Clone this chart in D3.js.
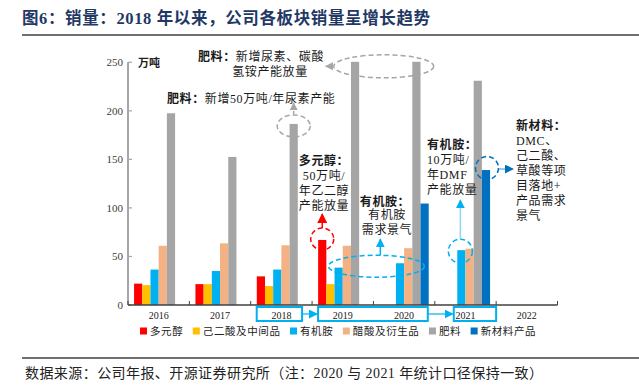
<!DOCTYPE html>
<html><head><meta charset="utf-8">
<script src="https://cdn.jsdelivr.net/npm/d3@7"></script>
<style>
html,body{margin:0;padding:0;background:#fff;}
svg{display:block;}
</style></head>
<body>
<svg id="c" width="639" height="392"></svg>
<script>
// ---------- data ----------
const years = ['2016','2017','2018','2019','2020','2021','2022'];
const seriesNames = ['多元醇','己二酸及中间品','有机胺','醋酸及衍生品','肥料','新材料产品'];
const polyol     = [22, 21.5, 29.5, 67, null, null, null];
const adipic     = [20.5, 21.5, 19.5, 21.5, null, null, null];
const amine      = [36.5, 35, 36.5, 38.5, 43, 56.5, null];
const acetic     = [61, 63.5, 61.5, 61, 58.5, 58, null];
const fertilizer = [197.5, 152.5, 186.5, 250.5, 250.5, 231, null];
const newMat     = [null, null, null, null, 104.5, 139, null];
const yTicks = [0, 50, 100, 150, 200, 250];
const colors = ['#FF0000','#FFC000','#00B0F0','#F4B183','#A5A5A5','#0070C0'];
const seriesValues = [polyol, adipic, amine, acetic, fertilizer, newMat];

const titleText = '图6：销量：2018 年以来，公司各板块销量呈增长趋势';
const sourceText = '数据来源：公司年报、开源证券研究所（注：2020 与 2021 年统计口径保持一致）';
const unitText = '万吨';

const svg = d3.select('#c');
const serif = '"Liberation Serif","Times New Roman","Noto Sans CJK SC",serif';

// ---------- title ----------
svg.append('text').attr('x', 22).attr('y', 24)
  .attr('font-family', serif).attr('font-weight', 'bold').attr('font-size', 16.5)
  .attr('textLength', 408).attr('lengthAdjust', 'spacing')
  .attr('fill', '#1F3864').text(titleText);
svg.append('line').attr('x1', 22).attr('x2', 639).attr('y1', 35).attr('y2', 35)
  .attr('stroke', '#404040').attr('stroke-width', 1.5);

// ---------- scales ----------
const x0 = d3.scaleBand().domain(years).range([128, 557.5]).paddingInner(0).paddingOuter(0);
const x1 = d3.scaleBand().domain(d3.range(6)).range([0, x0.bandwidth()]).paddingInner(0).paddingOuter(0.74);
const y = d3.scaleLinear().domain([0, 250]).range([305, 62.3]);

// ---------- bars ----------
const barData = [];
years.forEach((yr, j) => {
  seriesValues.forEach((arr, i) => {
    if (arr[j] != null) barData.push({yr, i, v: arr[j]});
  });
});
svg.append('g').selectAll('rect').data(barData).join('rect')
  .attr('x', d => x0(d.yr) + x1(d.i))
  .attr('width', x1.bandwidth())
  .attr('y', d => y(d.v))
  .attr('height', d => y(0) - y(d.v))
  .attr('fill', d => colors[d.i]);

// ---------- y axis ----------
const yAxis = svg.append('g');
yAxis.append('line').attr('x1', 128).attr('x2', 128).attr('y1', y(250)).attr('y2', y(0))
  .attr('stroke', '#A6A6A6').attr('stroke-width', 2);
yAxis.selectAll('line.t').data(yTicks).join('line').attr('class', 't')
  .attr('x1', 128).attr('x2', 132).attr('y1', d => y(d)).attr('y2', d => y(d))
  .attr('stroke', '#A6A6A6').attr('stroke-width', 1.2);
yAxis.selectAll('text').data(yTicks).join('text')
  .attr('x', 123).attr('y', d => y(d)).attr('dy', '0.35em').attr('text-anchor', 'end')
  .attr('font-family', serif).attr('font-size', 11).attr('fill', '#404040').text(d => d);
svg.append('text').attr('x', 138).attr('y', y(250)).attr('dy', '0.4em')
  .attr('font-family', serif).attr('font-size', 11).attr('font-weight', 'bold').attr('fill', '#222').text(unitText);

// ---------- x axis ----------
const xAxis = svg.append('g');
xAxis.append('line').attr('x1', 128).attr('x2', 557.5).attr('y1', y(0)).attr('y2', y(0))
  .attr('stroke', '#404040').attr('stroke-width', 1.3);
const bounds = years.map(d => x0(d)).concat([x0('2022') + x0.bandwidth()]);
xAxis.selectAll('line.t').data(bounds).join('line').attr('class', 't')
  .attr('x1', d => d).attr('x2', d => d).attr('y1', y(0)).attr('y2', y(0) - 4)
  .attr('stroke', '#404040').attr('stroke-width', 1);
xAxis.selectAll('text').data(years).join('text')
  .attr('x', d => x0(d) + x0.bandwidth() / 2).attr('y', 315).attr('dy', '0.35em')
  .attr('text-anchor', 'middle').attr('font-family', serif).attr('font-size', 10)
  .attr('fill', '#222').text(d => d);

// ---------- boxes under x labels ----------
const cyan = '#00B0F0';
const defs = svg.append('defs');
function marker(id, color, size) {
  defs.append('marker').attr('id', id).attr('viewBox', '0 0 10 10').attr('refX', 9).attr('refY', 5)
    .attr('markerWidth', size).attr('markerHeight', size).attr('orient', 'auto')
    .attr('markerUnits', 'userSpaceOnUse')
    .append('path').attr('d', 'M0,0 L10,5 L0,10 Z').attr('fill', color);
}
marker('mCyan', cyan, 9);
marker('mBlue', '#0070C0', 9);
marker('mRed', '#FF0000', 10);
marker('mGrey', '#A6A6A6', 8);

const boxes = [
  {from: '2018', to: '2018', l: 6, r: -10},
  {from: '2019', to: '2020', l: 6, r: -7},
  {from: '2021', to: '2021', l: 19, r: 0}
];
const bw = x0.bandwidth();
boxes.forEach(b => {
  const xa = x0(b.from) + b.l, xb = x0(b.to) + bw + b.r;
  svg.append('rect').attr('x', xa).attr('y', 307).attr('width', xb - xa).attr('height', 14)
    .attr('fill', 'none').attr('stroke', cyan).attr('stroke-width', 2);
});
for (let k = 0; k < boxes.length - 1; k++) {
  const xa = x0(boxes[k].to) + bw + boxes[k].r;
  const xb = x0(boxes[k + 1].from) + boxes[k + 1].l;
  svg.append('line').attr('x1', xa).attr('x2', xb - 1).attr('y1', 314).attr('y2', 314)
    .attr('stroke', cyan).attr('stroke-width', 1.2).attr('marker-end', 'url(#mCyan)');
}

// ---------- legend ----------
const leg = svg.append('g');
let lx = 140;
seriesNames.forEach((n, i) => {
  leg.append('rect').attr('x', lx).attr('y', 327.5).attr('width', 7).attr('height', 7).attr('fill', colors[i]);
  const t = leg.append('text').attr('x', lx + 10).attr('y', 331).attr('dy', '0.35em')
    .attr('font-family', serif).attr('font-size', 10.5).attr('letter-spacing', 0.6)
    .attr('fill', '#222').text(n);
  lx += 10 + t.node().getComputedTextLength() + 9.5;
});

// ---------- source ----------
svg.append('line').attr('x1', 22).attr('x2', 639).attr('y1', 358).attr('y2', 358)
  .attr('stroke', '#404040').attr('stroke-width', 1.5);
svg.append('text').attr('x', 25).attr('y', 373).attr('dy', '0.35em')
  .attr('font-family', serif).attr('font-size', 14)
  .attr('textLength', 518).attr('lengthAdjust', 'spacing')
  .attr('fill', '#222').text(sourceText);

// ---------- annotations ----------
const cx = (yr, i) => x0(yr) + x1(i) + x1.bandwidth() / 2;
const dash = '5,3';
function ellipse(cxv, cyv, rx, ry, color) {
  svg.append('ellipse').attr('cx', cxv).attr('cy', cyv).attr('rx', rx).attr('ry', ry)
    .attr('fill', 'none').attr('stroke', color).attr('stroke-width', 1.5).attr('stroke-dasharray', dash);
}
function arrow(xa, ya, xb, yb, color, m, dashed) {
  const l = svg.append('line').attr('x1', xa).attr('y1', ya).attr('x2', xb).attr('y2', yb)
    .attr('stroke', color).attr('stroke-width', 1.5).attr('marker-end', `url(#${m})`);
  if (dashed) l.attr('stroke-dasharray', '3,2');
}
function label(xv, yv, lines, anchor) {
  lines.forEach((ln, k) => {
    const t = svg.append('text').attr('x', xv).attr('y', yv + k * 15).attr('dy', '0.35em')
      .attr('text-anchor', anchor || 'start').attr('font-family', serif).attr('font-size', 12)
      .attr('letter-spacing', 0.6).attr('fill', '#1a1a1a');
    ln.forEach(seg => {
      t.append('tspan').attr('font-weight', seg.b ? 'bold' : 'normal').text(seg.t);
    });
  });
}

// Fertilizer 2019-2020 ellipse
const fMid = (cx('2019', 4) + cx('2020', 4)) / 2;
ellipse(fMid - 2, y(250) + 4, 50, 11.5, '#A6A6A6');
arrow(fMid - 52, y(250) + 4, fMid - 60, y(250) + 4, '#A6A6A6', 'mGrey', false);
label(198, 57, [[{t: '肥料：', b: true}, {t: '新增尿素、碳酸'}]]);
label(270, 72, [[{t: '氢铵产能放量'}]], 'middle');

// Fertilizer 2018
const f18 = cx('2018', 4);
ellipse(f18, y(fertilizer[2]) + 2, 16.5, 11, '#A6A6A6');
arrow(f18, y(fertilizer[2]) - 10, f18, y(fertilizer[2]) - 21, '#A6A6A6', 'mGrey', true);
label(167, 99, [[{t: '肥料：', b: true}, {t: '新增50万吨/年尿素产能'}]]);

// Polyol 2019
const p19 = cx('2019', 0);
ellipse(p19, y(polyol[3]) - 1, 11.5, 11, '#FF0000');
arrow(p19, y(polyol[3]) - 12, p19, y(polyol[3]) - 26, '#FF0000', 'mRed', false);
label(324, 161, [[{t: '多元醇：', b: true}], [{t: '50万吨/'}], [{t: '年乙二醇'}], [{t: '产能放量'}]], 'middle');

// Amine 2019-2020
const aMid = (cx('2019', 2) + cx('2020', 2)) / 2;
ellipse(aMid + 7, y(amine[4]) + 3, 48, 11, cyan);
arrow(aMid + 11, y(amine[4]) - 8, aMid + 11, y(amine[4]) - 24, cyan, 'mCyan', false);
label(385, 201.5, [[{t: '有机胺：', b: true}]], 'middle');
label(387, 215, [[{t: '有机胺'}], [{t: '需求景气'}]], 'middle');

// Amine 2021
const a21 = cx('2021', 2);
ellipse(a21 - 1, y(amine[5]) + 1, 12, 12, cyan);
arrow(a21 - 1, y(amine[5]) - 11, a21 - 1, y(amine[5]) - 50, '#8FD6F5', 'mCyan', false);
label(427, 145, [[{t: '有机胺：', b: true}], [{t: '10万吨/'}], [{t: '年DMF'}], [{t: '产能放量'}]]);

// New materials 2021
const n21 = cx('2021', 5);
ellipse(n21 + 1, y(newMat[5]) - 2, 11.5, 11.5, '#0070C0');
arrow(n21 + 13, y(newMat[5]) - 1, n21 + 27, y(newMat[5]) - 1, '#7FB3E0', 'mBlue', false);
label(516, 126, [[{t: '新材料：', b: true}], [{t: 'DMC、'}], [{t: '己二酸、'}], [{t: '草酸等项'}], [{t: '目落地+'}], [{t: '产品需求'}], [{t: '景气'}]]);
</script>
</body></html>
